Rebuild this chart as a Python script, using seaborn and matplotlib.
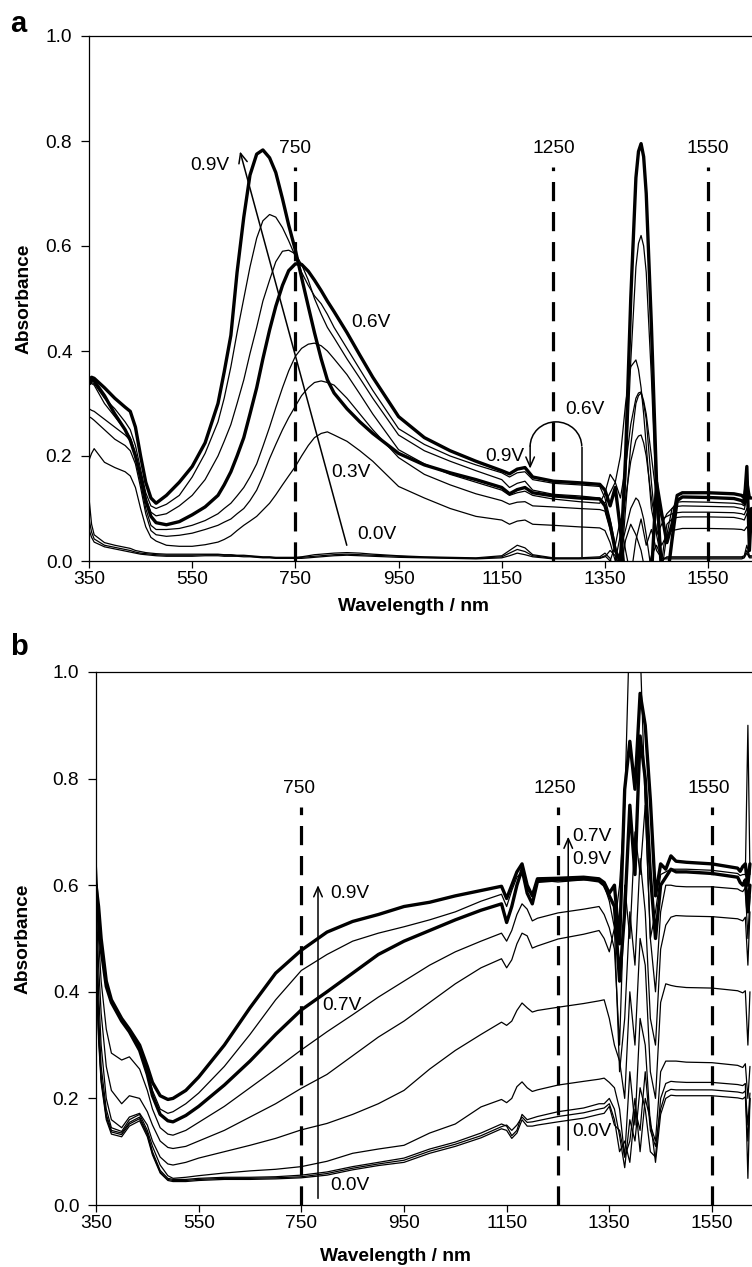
import matplotlib
matplotlib.use("Agg")
import matplotlib.pyplot as plt
from matplotlib.patches import Arc
from matplotlib.ticker import FormatStrFormatter
import seaborn as sns

# -------------------------
# dados (a)
# -------------------------
WL_A = [350, 355, 360, 380, 400, 420, 430, 440, 450, 460, 470, 480, 500,
        525, 550, 575, 600, 612, 625, 637, 650, 662, 675, 687, 700, 712,
        725, 737, 750, 762, 775, 787, 800, 812, 825, 850, 875, 900, 950,
        1000, 1050, 1100, 1150, 1165, 1180, 1195, 1210, 1250, 1300,
        1340, 1350, 1360, 1370, 1380, 1390, 1400, 1410, 1415, 1420, 1425,
        1430, 1440, 1450, 1460, 1470, 1480, 1490, 1500, 1550, 1600, 1615,
        1620, 1625, 1630, 1634]

A_09V = [0.345, 0.350, 0.348, 0.330, 0.310, 0.293, 0.285, 0.255, 0.200, 0.150, 0.120, 0.110, 0.125,
         0.150, 0.180, 0.225, 0.300, 0.360, 0.430, 0.550, 0.655, 0.735, 0.775, 0.783, 0.768, 0.740,
         0.690, 0.640, 0.592, 0.540, 0.485, 0.435, 0.385, 0.345, 0.320, 0.290, 0.265, 0.243, 0.205,
         0.183, 0.168, 0.155, 0.140, 0.128, 0.136, 0.140, 0.130, 0.124, 0.120,
         0.118, 0.105, 0.070, 0.020, 0.000, 0.200, 0.500, 0.730, 0.780, 0.795, 0.770,
         0.700, 0.450, 0.150, -0.030, -0.040, 0.040, 0.115, 0.122, 0.121, 0.119, 0.115,
         0.110, 0.180, 0.020, 0.100]
A_08V = [0.335, 0.340, 0.338, 0.310, 0.290, 0.265, 0.250, 0.220, 0.175, 0.130, 0.105, 0.100, 0.108,
         0.125, 0.160, 0.205, 0.265, 0.310, 0.370, 0.435, 0.500, 0.560, 0.615, 0.648, 0.660, 0.655,
         0.635, 0.610, 0.580, 0.550, 0.525, 0.505, 0.490, 0.470, 0.445, 0.405, 0.365, 0.325, 0.252,
         0.222, 0.200, 0.183, 0.168, 0.160, 0.168, 0.170, 0.155, 0.148, 0.145,
         0.142, 0.120, 0.080, 0.030, -0.020, 0.150, 0.380, 0.560, 0.605, 0.620, 0.600,
         0.550, 0.350, 0.100, -0.020, 0.050, 0.100, 0.112, 0.113, 0.112, 0.110, 0.108,
         0.105, 0.140, 0.060, 0.100]
A_07V = [0.335, 0.338, 0.335, 0.300, 0.275, 0.250, 0.235, 0.205, 0.165, 0.120, 0.093, 0.086, 0.090,
         0.105, 0.125, 0.155, 0.200, 0.228, 0.260, 0.300, 0.345, 0.395, 0.445, 0.495, 0.535, 0.570,
         0.590, 0.592, 0.585, 0.565, 0.535, 0.500, 0.470, 0.445, 0.425, 0.385, 0.348, 0.310, 0.240,
         0.210, 0.190, 0.172, 0.155, 0.140, 0.148, 0.152, 0.135, 0.127, 0.124,
         0.120, 0.110, 0.130, 0.150, 0.200, 0.300, 0.370, 0.383, 0.365, 0.330, 0.280,
         0.220, 0.100, 0.050, 0.070, 0.090, 0.100, 0.104, 0.105, 0.104, 0.103, 0.100,
         0.098, 0.120, 0.050, 0.100]
A_06V = [0.340, 0.345, 0.343, 0.315, 0.280, 0.250, 0.230, 0.200, 0.160, 0.115, 0.085, 0.073, 0.069,
         0.075, 0.088, 0.103, 0.125, 0.145, 0.170, 0.200, 0.235, 0.280, 0.330, 0.385, 0.440, 0.485,
         0.525, 0.553, 0.566, 0.565, 0.552, 0.535, 0.515, 0.495, 0.475, 0.435, 0.392, 0.350, 0.275,
         0.235, 0.210, 0.190, 0.172, 0.166, 0.175, 0.178, 0.160, 0.152, 0.149,
         0.146, 0.135, 0.105, 0.140, 0.060, -0.050, -0.050, -0.050, -0.050, -0.050, -0.050,
         -0.050, -0.030, 0.150, 0.090, 0.035, 0.070, 0.125, 0.130, 0.130, 0.128, 0.125,
         0.120, 0.150, 0.120, 0.120]
A_05V = [0.290, 0.287, 0.285, 0.270, 0.255, 0.240, 0.230, 0.200, 0.150, 0.100, 0.068, 0.060, 0.060,
         0.062, 0.068, 0.077, 0.090, 0.100, 0.110, 0.124, 0.140, 0.160, 0.185, 0.218, 0.255, 0.292,
         0.330, 0.362, 0.390, 0.405, 0.413, 0.415, 0.410, 0.400, 0.385, 0.355, 0.318, 0.280, 0.212,
         0.185, 0.165, 0.150, 0.135, 0.125, 0.130, 0.133, 0.125, 0.118, 0.113,
         0.110, 0.130, 0.165, 0.150, 0.120, 0.180, 0.260, 0.310, 0.320, 0.322, 0.305,
         0.280, 0.200, 0.120, 0.080, 0.085, 0.090, 0.092, 0.093, 0.093, 0.092, 0.090,
         0.088, 0.100, 0.085, 0.090]
A_04V = [0.275, 0.272, 0.268, 0.250, 0.232, 0.220, 0.210, 0.185, 0.140, 0.090, 0.058, 0.050, 0.047,
         0.049, 0.053, 0.060, 0.068, 0.074, 0.080, 0.090, 0.100, 0.115, 0.135, 0.162, 0.195, 0.222,
         0.250, 0.273, 0.295, 0.315, 0.330, 0.340, 0.343, 0.340, 0.335, 0.310, 0.280, 0.250, 0.197,
         0.165, 0.145, 0.128, 0.115, 0.108, 0.112, 0.113, 0.105, 0.103, 0.100,
         0.098, 0.095, 0.060, 0.020, -0.030, 0.100, 0.220, 0.300, 0.315, 0.320, 0.300,
         0.270, 0.150, 0.050, 0.000, 0.070, 0.080, 0.083, 0.084, 0.084, 0.083, 0.080,
         0.078, 0.090, 0.075, 0.080]
A_03V = [0.192, 0.205, 0.214, 0.188, 0.178, 0.170, 0.162, 0.140, 0.100, 0.065, 0.045, 0.038, 0.030,
         0.028, 0.028, 0.031, 0.036, 0.041, 0.048, 0.058, 0.068, 0.076, 0.085, 0.097, 0.110, 0.126,
         0.145, 0.162, 0.180, 0.200, 0.220, 0.235, 0.243, 0.246, 0.240, 0.228, 0.210, 0.190, 0.142,
         0.120, 0.100, 0.085, 0.078, 0.070, 0.076, 0.078, 0.070, 0.068, 0.065,
         0.063, 0.058, 0.035, 0.000, 0.050, 0.120, 0.190, 0.230, 0.238, 0.240, 0.225,
         0.200, 0.120, 0.060, 0.030, 0.050, 0.058, 0.060, 0.062, 0.062, 0.061, 0.060,
         0.058, 0.065, 0.055, 0.060]
A_02V = [0.120, 0.070, 0.050, 0.035, 0.030, 0.026, 0.024, 0.020, 0.018, 0.016, 0.015, 0.014, 0.013,
         0.013, 0.013, 0.013, 0.013, 0.012, 0.012, 0.011, 0.011, 0.010, 0.009, 0.008, 0.008, 0.007,
         0.007, 0.007, 0.007, 0.008, 0.010, 0.012, 0.013, 0.014, 0.015, 0.016, 0.015, 0.013, 0.010,
         0.008, 0.007, 0.006, 0.010, 0.020, 0.030, 0.025, 0.012, 0.006, 0.006,
         0.008, 0.015, 0.005, -0.030, 0.020, 0.060, 0.100, 0.120, 0.115, 0.100, 0.080,
         0.050, -0.020, -0.040, 0.000, 0.008, 0.008, 0.008, 0.008, 0.008, 0.008, 0.008,
         0.010, 0.030, 0.010, 0.010]
A_01V = [0.080, 0.055, 0.042, 0.030, 0.026, 0.022, 0.020, 0.017, 0.015, 0.014, 0.013, 0.012, 0.011,
         0.011, 0.011, 0.012, 0.012, 0.011, 0.011, 0.010, 0.010, 0.009, 0.008, 0.007, 0.007, 0.006,
         0.006, 0.006, 0.006, 0.007, 0.008, 0.009, 0.010, 0.011, 0.012, 0.013, 0.012, 0.011, 0.009,
         0.007, 0.006, 0.005, 0.008, 0.015, 0.022, 0.018, 0.010, 0.005, 0.005,
         0.006, 0.010, 0.000, 0.030, 0.080, 0.020, -0.030, 0.040, 0.060, 0.080, 0.055,
         0.030, 0.060, 0.020, 0.005, 0.006, 0.006, 0.006, 0.006, 0.006, 0.006, 0.006,
         0.008, 0.020, 0.008, 0.008]
A_00V = [0.060, 0.045, 0.036, 0.027, 0.023, 0.019, 0.017, 0.015, 0.013, 0.012, 0.011, 0.010, 0.009,
         0.009, 0.009, 0.010, 0.010, 0.009, 0.009, 0.009, 0.008, 0.008, 0.007, 0.006, 0.006, 0.005,
         0.005, 0.005, 0.005, 0.005, 0.006, 0.007, 0.008, 0.009, 0.010, 0.011, 0.010, 0.009, 0.007,
         0.006, 0.005, 0.004, 0.006, 0.010, 0.015, 0.012, 0.008, 0.004, 0.004,
         0.005, 0.008, 0.020, 0.010, -0.020, 0.040, 0.070, 0.050, 0.035, 0.020, -0.005,
         -0.030, 0.010, 0.030, 0.004, 0.004, 0.004, 0.004, 0.004, 0.004, 0.004, 0.004,
         0.006, 0.015, 0.006, 0.006]

CURVAS_A = [A_00V, A_01V, A_02V, A_03V, A_04V, A_05V, A_07V, A_08V, A_06V, A_09V]
GROSSAS_A = [A_06V, A_09V]

# -------------------------
# dados (b)
# -------------------------
WL_B = [350, 355, 360, 370, 380, 400, 415, 435, 450, 460,
        475, 490, 500, 525, 550, 600, 650, 700, 750, 800,
        850, 900, 950, 1000, 1050, 1100, 1140, 1150, 1160, 1170,
        1180, 1190, 1200, 1210, 1250, 1300, 1330, 1340, 1350, 1360,
        1370, 1380, 1390, 1400, 1410, 1420, 1430, 1440, 1450, 1460,
        1470, 1480, 1500, 1550, 1600, 1605, 1610, 1615, 1620, 1624]

B_09V = [0.600, 0.560, 0.500, 0.420, 0.385, 0.350, 0.330, 0.300, 0.260, 0.230,
         0.205, 0.198, 0.200, 0.215, 0.240, 0.300, 0.370, 0.435, 0.478, 0.512,
         0.532, 0.545, 0.560, 0.568, 0.580, 0.590, 0.598, 0.575, 0.600, 0.625,
         0.640, 0.600, 0.580, 0.612, 0.613, 0.615, 0.612, 0.605, 0.585, 0.600,
         0.490, 0.780, 0.870, 0.780, 0.960, 0.900, 0.760, 0.580, 0.640, 0.630,
         0.655, 0.645, 0.643, 0.640, 0.632, 0.626, 0.635, 0.640, 0.600, 0.640]
B_08V = [0.650, 0.550, 0.490, 0.410, 0.380, 0.345, 0.325, 0.295, 0.250, 0.215,
         0.180, 0.172, 0.175, 0.190, 0.210, 0.260, 0.320, 0.385, 0.440, 0.470,
         0.495, 0.510, 0.522, 0.535, 0.550, 0.570, 0.583, 0.560, 0.590, 0.615,
         0.625, 0.590, 0.585, 0.610, 0.606, 0.610, 0.610, 0.600, 0.570, 0.520,
         0.600, 0.750, 1.100, 1.120, 1.050, 0.750, 0.500, 0.550, 0.620, 0.625,
         0.630, 0.630, 0.630, 0.628, 0.622, 0.618, 0.620, 0.620, 0.900, 0.620]
B_07V = [0.580, 0.540, 0.480, 0.410, 0.380, 0.345, 0.325, 0.290, 0.245, 0.205,
         0.170, 0.158, 0.156, 0.168, 0.185, 0.225, 0.270, 0.320, 0.366, 0.400,
         0.435, 0.470, 0.495, 0.515, 0.535, 0.553, 0.565, 0.530, 0.560, 0.600,
         0.630, 0.585, 0.565, 0.607, 0.610, 0.612, 0.608, 0.600, 0.580, 0.560,
         0.420, 0.550, 0.750, 0.620, 0.880, 0.800, 0.620, 0.500, 0.600, 0.615,
         0.630, 0.625, 0.625, 0.622, 0.615, 0.605, 0.600, 0.610, 0.550, 0.600]
B_06V = [0.600, 0.500, 0.420, 0.330, 0.285, 0.272, 0.278, 0.255, 0.215, 0.180,
         0.145, 0.133, 0.131, 0.140, 0.155, 0.185, 0.220, 0.255, 0.291, 0.325,
         0.357, 0.390, 0.420, 0.450, 0.475, 0.495, 0.510, 0.495, 0.515, 0.545,
         0.565, 0.555, 0.533, 0.538, 0.548, 0.555, 0.560, 0.545, 0.520, 0.480,
         0.300, 0.600, 0.500, 0.700, 0.620, 0.750, 0.500, 0.400, 0.550, 0.600,
         0.600, 0.598, 0.597, 0.597, 0.593, 0.590, 0.588, 0.595, 0.500, 0.580]
B_05V = [0.580, 0.450, 0.360, 0.260, 0.215, 0.190, 0.205, 0.200, 0.175, 0.150,
         0.120, 0.108, 0.106, 0.110, 0.120, 0.140, 0.165, 0.190, 0.219, 0.245,
         0.280, 0.315, 0.345, 0.380, 0.415, 0.445, 0.462, 0.445, 0.460, 0.490,
         0.510, 0.505, 0.482, 0.486, 0.499, 0.508, 0.515, 0.500, 0.475, 0.520,
         0.250, 0.350, 0.550, 0.450, 0.650, 0.550, 0.350, 0.300, 0.480, 0.525,
         0.540, 0.543, 0.542, 0.541, 0.537, 0.535, 0.533, 0.540, 0.450, 0.550]
B_04V = [0.550, 0.400, 0.300, 0.200, 0.160, 0.145, 0.165, 0.172, 0.150, 0.120,
         0.090, 0.077, 0.075, 0.080, 0.088, 0.100, 0.112, 0.125, 0.141, 0.153,
         0.170, 0.190, 0.215, 0.255, 0.290, 0.320, 0.343, 0.337, 0.345, 0.365,
         0.379, 0.370, 0.362, 0.365, 0.371, 0.378, 0.383, 0.385, 0.350, 0.300,
         0.270, 0.200, 0.400, 0.300, 0.500, 0.450, 0.250, 0.200, 0.380, 0.415,
         0.412, 0.410, 0.408, 0.407, 0.402, 0.400, 0.398, 0.402, 0.300, 0.400]
B_03V = [0.500, 0.360, 0.260, 0.180, 0.145, 0.138, 0.160, 0.170, 0.140, 0.110,
         0.075, 0.055, 0.050, 0.052, 0.055, 0.060, 0.064, 0.067, 0.072, 0.082,
         0.097, 0.105, 0.112, 0.135, 0.152, 0.184, 0.198, 0.192, 0.200, 0.222,
         0.231, 0.220, 0.213, 0.216, 0.225, 0.232, 0.236, 0.238, 0.230, 0.220,
         0.180, 0.090, 0.250, 0.150, 0.350, 0.300, 0.150, 0.120, 0.250, 0.270,
         0.270, 0.270, 0.268, 0.267, 0.262, 0.260, 0.258, 0.265, 0.200, 0.260]
B_02V = [0.480, 0.330, 0.240, 0.170, 0.140, 0.135, 0.155, 0.165, 0.135, 0.100,
         0.065, 0.050, 0.048, 0.048, 0.050, 0.052, 0.052, 0.053, 0.056, 0.062,
         0.072, 0.080, 0.088, 0.105, 0.118, 0.135, 0.152, 0.148, 0.130, 0.140,
         0.170, 0.160, 0.163, 0.166, 0.175, 0.182, 0.190, 0.190, 0.200, 0.180,
         0.130, 0.070, 0.160, 0.120, 0.220, 0.180, 0.100, 0.090, 0.200, 0.228,
         0.232, 0.231, 0.230, 0.230, 0.226, 0.225, 0.224, 0.228, 0.050, 0.200]
B_01V = [0.460, 0.320, 0.235, 0.165, 0.137, 0.132, 0.152, 0.162, 0.132, 0.097,
         0.062, 0.048, 0.046, 0.046, 0.048, 0.050, 0.050, 0.051, 0.053, 0.059,
         0.069, 0.077, 0.084, 0.101, 0.114, 0.130, 0.147, 0.150, 0.140, 0.150,
         0.165, 0.155, 0.156, 0.158, 0.166, 0.173, 0.180, 0.182, 0.190, 0.160,
         0.100, 0.120, 0.080, 0.180, 0.140, 0.250, 0.140, 0.110, 0.180, 0.212,
         0.217, 0.216, 0.216, 0.216, 0.212, 0.211, 0.210, 0.214, 0.150, 0.210]
B_00V = [0.440, 0.310, 0.230, 0.160, 0.133, 0.128, 0.148, 0.158, 0.128, 0.094,
         0.060, 0.046, 0.044, 0.044, 0.046, 0.048, 0.048, 0.049, 0.051, 0.056,
         0.066, 0.074, 0.080, 0.097, 0.110, 0.126, 0.143, 0.140, 0.125, 0.135,
         0.160, 0.148, 0.148, 0.150, 0.156, 0.163, 0.170, 0.172, 0.185, 0.150,
         0.140, 0.090, 0.120, 0.200, 0.100, 0.200, 0.160, 0.080, 0.170, 0.200,
         0.206, 0.205, 0.205, 0.205, 0.201, 0.200, 0.199, 0.203, 0.120, 0.200]

CURVAS_B = [B_00V, B_01V, B_02V, B_03V, B_04V, B_05V, B_06V, B_08V, B_07V, B_09V]
GROSSAS_B = [B_07V, B_09V]

# linhas de referência e rótulos
LINHAS_NM = [750, 1250, 1550]
XTICKS = [350, 550, 750, 950, 1150, 1350, 1550]
YTICKS = [0.0, 0.2, 0.4, 0.6, 0.8, 1.0]

FS = 13.8
sns.set_theme(style="ticks")
plt.rcParams['font.family'] = ['Liberation Sans', 'DejaVu Sans']
plt.rcParams['text.color'] = 'black'
plt.rcParams['axes.labelcolor'] = 'black'

W, H = 752, 1267
fig = plt.figure(figsize=(W / 100, H / 100), dpi=100)
ax_a = fig.add_axes([89 / W, 1 - 561 / H, 1 - 89 / W, (561 - 36) / H])
ax_b = fig.add_axes([96 / W, 1 - 1205 / H, 1 - 96 / W, (1205 - 672) / H])


def desenhar(ax, wl, curvas, grossas):
    for ys in curvas:
        lw = 2.4 if any(ys is g for g in grossas) else 0.9
        sns.lineplot(x=wl, y=ys, ax=ax, color="black", linewidth=lw,
                     sort=False, estimator=None, legend=False)


def formatar(ax, xmax, ylab_x, xlab_xy):
    ax.set_xlim(350, xmax)
    ax.set_ylim(0, 1.0)
    ax.set_xticks(XTICKS)
    ax.set_yticks(YTICKS)
    ax.yaxis.set_major_formatter(FormatStrFormatter("%.1f"))
    ax.spines["right"].set_visible(False)
    for s in ["left", "bottom", "top"]:
        ax.spines[s].set_linewidth(0.9)
        ax.spines[s].set_color("black")
    ax.tick_params(axis="y", direction="out", length=6, width=0.9,
                   pad=6, labelsize=FS, colors="black")
    ax.tick_params(axis="x", direction="out", length=5, width=0.9,
                   pad=2, labelsize=FS, colors="black")
    ax.set_ylabel("Absorbance", fontsize=FS, fontweight="bold")
    ax.set_xlabel("Wavelength / nm", fontsize=FS, fontweight="bold")
    ax.yaxis.set_label_coords(ylab_x, 0.5)
    ax.xaxis.set_label_coords(*xlab_xy)
    ax.set_facecolor("white")


def seta(ax, base, ponta):
    ax.annotate("", xy=ponta, xytext=base,
                arrowprops=dict(arrowstyle="->,head_length=0.5,head_width=0.22",
                                lw=1.1, color="black", shrinkA=0, shrinkB=0,
                                mutation_scale=14))


# ---------- painel a ----------
desenhar(ax_a, WL_A, CURVAS_A, GROSSAS_A)
ax_a.vlines(LINHAS_NM, 0, 0.75, colors="black", linewidth=2.3,
            linestyles=[(0, (6, 3.4))])
for nm in LINHAS_NM:
    ax_a.text(nm, 0.785, str(nm), ha="center", va="center", fontsize=FS)
formatar(ax_a, 1635, -0.0845, (0.4895, -0.0705))

seta(ax_a, (849.6, 0.03), (642.7, 0.78))
ax_a.text(623, 0.753, "0.9V", ha="right", va="center", fontsize=FS)
ax_a.text(859, 0.454, "0.6V", ha="left", va="center", fontsize=FS)
ax_a.text(820, 0.168, "0.3V", ha="left", va="center", fontsize=FS)
ax_a.text(869, 0.050, "0.0V", ha="left", va="center", fontsize=FS)

# seta em arco 0.6V -> 0.9V
ax_a.vlines([1305], 0.008, 0.218, colors="black", linewidth=1.1)
ax_a.add_patch(Arc((1255, 0.218), 100, 0.094, theta1=0, theta2=180,
                   color="black", lw=1.1))
seta(ax_a, (1205, 0.219), (1205, 0.176))
ax_a.text(1273, 0.288, "0.6V", ha="left", va="center", fontsize=FS)
ax_a.text(1118, 0.199, "0.9V", ha="left", va="center", fontsize=FS)

# ---------- painel b ----------
desenhar(ax_b, WL_B, CURVAS_B, GROSSAS_B)
ax_b.vlines(LINHAS_NM, 0, 0.747, colors="black", linewidth=2.3,
            linestyles=[(0, (6, 3.4))])
for nm, xl in zip(LINHAS_NM, [746, 1243, 1544]):
    ax_b.text(xl, 0.782, str(nm), ha="center", va="center", fontsize=FS)
formatar(ax_b, 1628, -0.099, (0.456, -0.0807))

seta(ax_b, (782.5, 0.0125), (782.5, 0.60))
ax_b.text(806, 0.585, "0.9V", ha="left", va="center", fontsize=FS)
ax_b.text(790, 0.375, "0.7V", ha="left", va="center", fontsize=FS)
ax_b.text(806, 0.0375, "0.0V", ha="left", va="center", fontsize=FS)

seta(ax_b, (1270, 0.103), (1270, 0.691))
ax_b.text(1278, 0.691, "0.7V", ha="left", va="center", fontsize=FS)
ax_b.text(1278, 0.649, "0.9V", ha="left", va="center", fontsize=FS)
ax_b.text(1277, 0.1375, "0.0V", ha="left", va="center", fontsize=FS)

# letras dos painéis
fig.text(10 / W, 1 - 32 / H, "a", fontsize=21, fontweight="bold",
         ha="left", va="baseline")
fig.text(10 / W, 1 - 655 / H, "b", fontsize=21, fontweight="bold",
         ha="left", va="baseline")

fig.savefig("out.png", dpi=100, facecolor="white")
